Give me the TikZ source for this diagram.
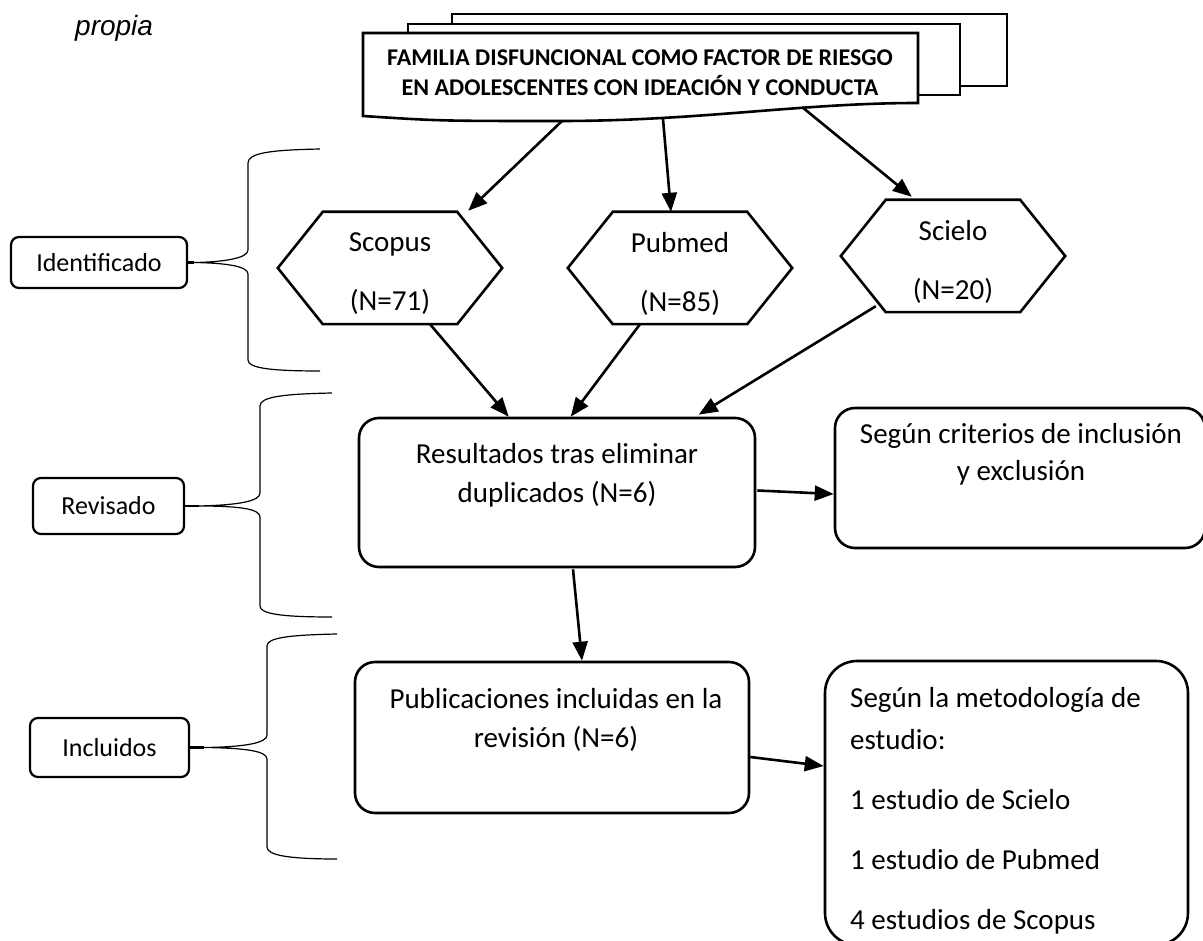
\documentclass[tikz,border=0pt]{standalone}
\usepackage{fontspec}
\setmainfont{Carlito}
\newfontfamily\arialfont{Liberation Sans}
\usetikzlibrary{arrows.meta,calc}
\begin{document}
\begin{tikzpicture}[x=1pt,y=-1pt,
  outl/.style={line width=2.6pt, line join=miter},
  boxs/.style={draw, line width=2.6pt, rounded corners=20pt, inner sep=0pt},
  hexbox/.style={draw=none, inner sep=0pt, minimum width=134pt, minimum height=112pt},
  txt/.style={align=center, inner sep=0pt, font=\fontsize{29}{39}\selectfont},
  lblbox/.style={draw, line width=2.2pt, rounded corners=8pt, inner sep=0pt, font=\fontsize{26}{30}\selectfont},
  arr/.style={line width=2.6pt, -{Triangle[length=19pt,width=15pt]}},
  bracel/.style={line width=1.2pt},
  stub/.style={line width=2.2pt}
]
\useasboundingbox (0,0) rectangle (1203,941);

% caption fragment
\node[anchor=base west, inner sep=0pt, font=\arialfont\itshape\fontsize{28}{32}\selectfont] (prop) at (75,36) {propia};

% multi-document title
\draw[outl, fill=white] (452,14) rectangle (1007,86);
\draw[outl, fill=white] (408,24) rectangle (960,95);
\draw[outl, fill=white] (363,33) -- (918,33) -- (918,103)
   .. controls (800,103) and (700,121) .. (560,121)
   .. controls (440,121) .. (363,116) -- cycle;
\node[align=center, inner sep=0pt, font=\bfseries\fontsize{24}{30}\selectfont] (doc) at (640,73)
  {FAMILIA DISFUNCIONAL COMO FACTOR DE RIESGO\\EN ADOLESCENTES CON IDEACIÓN Y CONDUCTA};
\coordinate (d1) at (562,121);
\coordinate (d2) at (663,119);
\coordinate (d3) at (802,107);

% hexagons
\node[hexbox] (sc) at (390,268) {};
\node[hexbox] (pm) at (680,268) {};
\node[hexbox] (si) at (953,256) {};
\foreach \h in {sc,pm,si}{
  \draw[outl] (\h.north west) -- (\h.north east) -- ([xshift=45pt]\h.east)
     -- (\h.south east) -- (\h.south west) -- ([xshift=-45pt]\h.west) -- cycle;
}
\node[txt, font=\fontsize{29}{59}\selectfont] (sct) at (390,274) {Scopus\\(N=71)};
\node[txt, font=\fontsize{29}{59}\selectfont] (pmt) at (680,274) {Pubmed\\(N=85)};
\node[txt, font=\fontsize{29}{59}\selectfont] (sit) at (953,262) {Scielo\\(N=20)};

% main boxes
\node[boxs, minimum width=396pt, minimum height=149pt] (res) at (557,492.5) {};
\node[txt] (rest) at (557,475) {Resultados tras eliminar\\duplicados (N=6)};
\node[boxs, minimum width=370pt, minimum height=140pt] (crit) at (1020,478) {};
\node[txt, font=\fontsize{29}{37}\selectfont] (critt) at (1021,454) {Según criterios de inclusión\\y exclusión};
\node[boxs, minimum width=394pt, minimum height=151pt] (pub) at (552,737.5) {};
\node[txt] (pubt) at (556,720) {Publicaciones incluidas en la\\revisión (N=6)};
\node[boxs, rounded corners=32pt, minimum width=363pt, minimum height=284pt] (met) at (1006.5,803) {};
\node[align=left, inner sep=0pt, anchor=north west, font=\fontsize{29}{42}\selectfont] (mett) at (850,687)
  {Según la metodología de\\estudio:\\[18pt]1 estudio de Scielo\\[18pt]1 estudio de Pubmed\\[18pt]4 estudios de Scopus};

% arrows
\draw[arr] (d1) -- ($(sc.north east)+(11,-1)$);
\draw[arr] (d2) -- ($(pm.north)+(-9,0)$);
\draw[arr] (d3) -- ($(si.north west)+(26,-3)$);
\draw[arr] ($(sc.south)+(40,0)$) -- ($(res.north west)+(151,0)$);
\draw[arr] ($(pm.south)+(-40,0)$) -- ($(res.north west)+(213,0)$);
\draw[arr] ($(si.south west)+(-10,-6)$) -- ($(res.north west)+(341,-2)$);
\draw[arr] ($(res.east)+(1,-2)$) -- ($(crit.west)+(0,16)$);
\draw[arr] ($(res.south)+(16,1)$) -- ($(pub.north)+(30,0)$);
\draw[arr] ($(pub.east)+(0,19.5)$) -- ($(met.west)+(0,-37)$);

% stage labels
\node[lblbox, minimum width=176pt, minimum height=51pt] (idl) at (99,262.5) {Identificado};
\node[lblbox, minimum width=151pt, minimum height=56pt] (rvl) at (108.5,506) {Revisado};
\node[lblbox, minimum width=159pt, minimum height=59pt] (inl) at (109.5,747.5) {Incluidos};

% braces
\draw[stub] (idl.east) -- ++(6,0) coordinate (c1);
\draw[bracel] (320,149) .. controls (270,150) and (248,153) .. (248,163) -- (248,250)
  .. controls (248,258) and (225,262) .. (c1)
  .. controls (225,263) and (248,266) .. (248,274) -- (248,360)
  .. controls (248,368) and (270,371) .. (320,371);
\draw[stub] (rvl.east) -- ++(14,0) coordinate (c2);
\draw[bracel] (332,393) .. controls (282,394) and (260,397) .. (260,406) -- (260,493)
  .. controls (260,501) and (240,505) .. (c2)
  .. controls (240,506) and (260,509) .. (260,517) -- (260,606)
  .. controls (260,614) and (282,617) .. (332,617);
\draw[stub] (inl.east) -- ++(14,0) coordinate (c3);
\draw[bracel] (337,634) .. controls (287,635) and (267,638) .. (267,646) -- (267,735)
  .. controls (267,743) and (245,747) .. (c3)
  .. controls (245,748) and (267,751) .. (267,759) -- (267,847)
  .. controls (267,855) and (287,859) .. (337,859);
\end{tikzpicture}
\end{document}
